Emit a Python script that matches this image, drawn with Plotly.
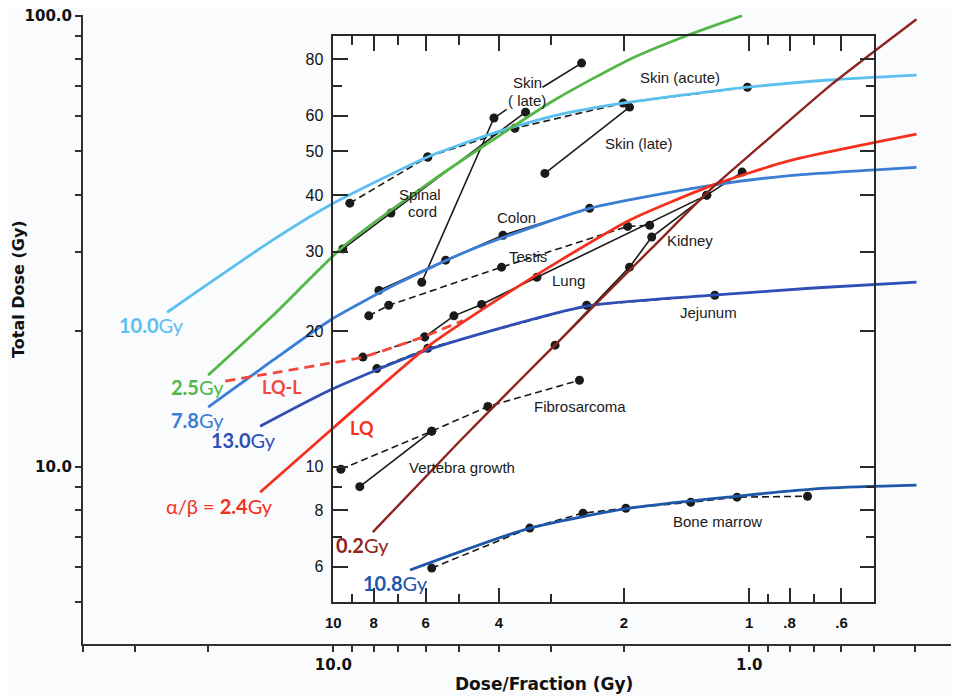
import math
import plotly.graph_objects as go

# ---------------- figure geometry ----------------
OFF = 8                      # page body margin of the browser
W, H = 951, 688
M_L, M_R, M_T, M_B = 75, 0, 7, 52
X_OUT = (40.0, 0.313)     # outer x range (reversed, log)
Y_OUT = (4.045, 100.0)    # outer y range (log)
Y_PAD = 0.0015            # tiny headroom so the 100.0 tick is kept
X_IN = (10.0, 0.5)        # inner panel x extent
Y_IN = (5.0, 90.0)        # inner panel y extent

# ---------------- tick definitions ----------------
outer_x_ticks = [40, 30, 20, 10, 9, 8, 7, 6, 5, 4, 3, 2, 1, 0.9, 0.8, 0.7, 0.6, 0.5, 0.4]
outer_x_text = ["", "", "", "10.0", "", "", "", "", "", "", "", "", "1.0", "", "", "", "", "", ""]
outer_y_ticks = [5, 6, 7, 8, 9, 10, 20, 30, 40, 50, 60, 70, 80, 90, 100]
outer_y_text = ["", "", "", "", "", "10.0", "", "", "", "", "", "", "", "", "100.0"]

inner_x_major = [10, 8, 6, 4, 2, 1, 0.8, 0.6]
inner_x_text = ["10", "8", "6", "4", "2", "1", ".8", ".6"]
inner_x_minor = [9, 7, 5, 3, 0.9, 0.7]
inner_y_major = [6, 8, 10, 20, 30, 40, 50, 60, 80]
inner_y_text = ["6", "8", "10", "20", "30", "40", "50", "60", "80"]
inner_y_minor = [7, 9, 70]

# ---------------- coloured iso-effect curves ----------------
ab100_x = [25.1, 14.0, 10.2, 5.93, 4.05, 2.90, 1.94, 1.01, 0.64, 0.396]
ab100_y = [22.0, 31.8, 38.0, 48.6, 55.2, 60.2, 64.3, 69.4, 72.0, 73.8]

ab25_x = [20.0, 14.0, 9.49, 5.86, 4.14, 2.90, 1.94, 1.40, 1.04]
ab25_y = [15.96, 21.6, 30.7, 42.7, 53.0, 65.5, 80.0, 90.6, 100.0]

ab78_x = [20.0, 14.0, 10.2, 7.0, 4.70, 2.42, 1.224, 0.799, 0.396]
ab78_y = [13.55, 17.2, 21.1, 25.5, 30.2, 37.4, 42.1, 44.2, 46.1]

ab130_x = [15.0, 10.2, 5.96, 2.46, 1.224, 0.70, 0.396]
ab130_y = [12.3, 14.78, 18.13, 22.7, 24.0, 24.9, 25.65]

lq24_x = [15.0, 10.03, 5.96, 4.05, 2.86, 1.94, 1.224, 0.799, 0.396]
lq24_y = [8.78, 12.17, 18.4, 23.4, 28.6, 35.2, 42.1, 47.7, 54.6]

lql_x = [18.2, 10.2, 8.49, 6.09, 4.88]
lql_y = [15.48, 16.96, 17.5, 19.4, 21.1]

ab02_x = [8.04, 4.97, 3.56, 2.90, 1.735, 1.224, 0.944, 0.64, 0.396]
ab02_y = [7.16, 11.39, 15.55, 18.8, 30.2, 41.6, 51.3, 69.9, 98.2]

ab108_x = [6.54, 3.37, 1.94, 1.01, 0.651, 0.396]
ab108_y = [5.90, 7.31, 8.09, 8.65, 8.96, 9.10]

# ---------------- black tissue data (inner figure) ----------------
spinal_solid_x = [9.49, 7.27, 3.45]
spinal_solid_y = [30.4, 36.5, 61.1]
spinal_dash_x = [9.13, 5.93]
spinal_dash_y = [38.4, 48.6]
skin_acute_x = [5.93, 3.66, 2.01, 1.01]
skin_acute_y = [48.6, 56.3, 64.0, 69.4]
skin_late_steep_x = [6.13, 4.11]
skin_late_steep_y = [25.65, 59.3]
skin_late_top_x = [4.11, 3.83, None, 3.14, 2.53]
skin_late_top_y = [59.3, 62.0, None, 69.4, 78.5]
skin_late_top_dot_x = [2.53]
skin_late_top_dot_y = [78.5]
skin_late_low_x = [3.10, 1.94]
skin_late_low_y = [44.7, 62.7]
colon_x = [7.77, 5.37, 3.91, 2.42]
colon_y = [24.6, 28.7, 32.6, 37.4]
testis_x = [8.22, 7.36, 3.94, 1.96, 1.735]
testis_y = [21.6, 22.8, 27.7, 34.1, 34.3]
lung_dash_x = [8.49, 6.03]
lung_dash_y = [17.5, 19.4]
lung_x = [6.03, 5.13, 4.40, 3.24, 1.265, 1.04]
lung_y = [19.4, 21.6, 22.9, 26.3, 40.0, 45.0]
kidney_x = [2.93, 1.94, 1.716, 1.265]
kidney_y = [18.6, 27.7, 32.3, 40.0]
jejunum_x = [7.86, 5.93, 2.46, 1.21]
jejunum_y = [16.5, 18.3, 22.8, 24.0]
fibro_x = [9.59, 5.80, 4.25, 2.56]
fibro_y = [9.87, 11.99, 13.6, 15.55]
vertebra_x = [8.64, 5.80]
vertebra_y = [9.03, 11.99]
marrow_x = [5.80, 3.37, 2.51, 1.98, 1.382, 1.07, 0.724]
marrow_y = [5.96, 7.31, 7.89, 8.09, 8.34, 8.56, 8.60]

# ---------------- colours ----------------
C_LBLUE = "#5BC0EE"
C_GREEN = "#52B747"
C_MBLUE = "#3A7ED6"
C_DBLUE = "#2E4FB6"
C_RED = "#F5301F"
C_BROWN = "#8E2420"
C_NAVY = "#1F57A8"
BLACK = "#1a1a1a"

fig = go.Figure()

def black(x, y, dash="solid", mode="lines+markers"):
    fig.add_trace(go.Scatter(
        x=x, y=y, mode=mode, connectgaps=False,
        line=dict(color=BLACK, width=1.6, dash=dash),
        marker=dict(color=BLACK, size=9),
        showlegend=False, hoverinfo="skip", cliponaxis=False))

DASH = "7px,4px"
black(spinal_solid_x, spinal_solid_y)
black(spinal_dash_x, spinal_dash_y, DASH)
black(skin_acute_x, skin_acute_y, DASH)
black(skin_late_steep_x, skin_late_steep_y)
black(skin_late_top_x, skin_late_top_y, mode="lines")
black(skin_late_top_dot_x, skin_late_top_dot_y, mode="markers")
black(skin_late_low_x, skin_late_low_y)
black(colon_x, colon_y)
black(testis_x, testis_y, DASH)
black(lung_dash_x, lung_dash_y, DASH)
black(lung_x, lung_y)
black(kidney_x, kidney_y)
black(jejunum_x, jejunum_y, DASH)
black(fibro_x, fibro_y, DASH)
black(vertebra_x, vertebra_y)
black(marrow_x, marrow_y, DASH)

def curve(x, y, color, dash="solid", width=2.8):
    fig.add_trace(go.Scatter(
        x=x, y=y, mode="lines",
        line=dict(color=color, width=width, dash=dash, shape="spline", smoothing=0.6),
        showlegend=False, hoverinfo="skip", cliponaxis=True))

curve(ab100_x, ab100_y, C_LBLUE)
curve(ab25_x, ab25_y, C_GREEN)
curve(ab78_x, ab78_y, C_MBLUE)
curve(ab130_x, ab130_y, C_DBLUE)
curve(ab108_x, ab108_y, C_NAVY)
curve(lql_x, lql_y, "#F2483A", dash="10px,6px")
curve(lq24_x, lq24_y, C_RED)
curve(ab02_x, ab02_y, C_BROWN, width=2.4)

# dummy trace so the inner panel axes exist
fig.add_trace(go.Scatter(x=[], y=[], xaxis="x2", yaxis="y2", showlegend=False, hoverinfo="skip"))

# ---------------- geometry helpers ----------------
lx0, lx1 = math.log10(X_OUT[0]), math.log10(X_OUT[1])
ly0, ly1 = math.log10(Y_OUT[0]), math.log10(Y_OUT[1]) + Y_PAD

def fx(v):
    return (lx0 - math.log10(v)) / (lx0 - lx1)

def fy(v):
    return (math.log10(v) - ly0) / (ly1 - ly0)

PW = W - M_L - M_R
PH = H - M_T - M_B

def P(px, py):
    # px, py: position in the screenshot (page pixels)
    return (px - OFF - M_L) / PW, (H - M_B - (py - OFF)) / PH

AXC = "#3a2e2c"
INC = "#2a2a2a"

fig.update_layout(
    width=W, height=H,
    margin=dict(l=M_L, r=M_R, t=M_T, b=M_B, pad=0),
    paper_bgcolor="#FAFBFD",
    plot_bgcolor="rgba(0,0,0,0)",
    showlegend=False,
    xaxis=dict(type="log", range=[lx0, lx1], showgrid=False, zeroline=False,
               showline=True, linecolor=AXC, linewidth=2,
               ticks="outside", ticklen=6, tickwidth=1.5, tickcolor=AXC,
               tickmode="array", tickvals=outer_x_ticks, ticktext=outer_x_text,
               tickfont=dict(family="DejaVu Sans", size=15, color="#111", weight="bold"),
               ticklabeloverflow="allow", anchor="y"),
    yaxis=dict(type="log", range=[ly0, ly1], showgrid=False, zeroline=False,
               showline=True, linecolor=AXC, linewidth=2,
               ticks="outside", ticklen=6, tickwidth=1.5, tickcolor=AXC,
               tickmode="array", tickvals=outer_y_ticks, ticktext=outer_y_text,
               tickfont=dict(family="DejaVu Sans", size=15, color="#111", weight="bold"),
               ticklabeloverflow="allow", anchor="x"),
    xaxis2=dict(type="log", domain=[fx(X_IN[0]), fx(X_IN[1])],
                range=[math.log10(X_IN[0]), math.log10(X_IN[1])],
                anchor="y2", showgrid=False, zeroline=False,
                showline=True, linecolor=INC, linewidth=1.6, mirror="ticks",
                ticks="inside", ticklen=15, tickwidth=1.5, tickcolor=INC,
                tickmode="array", tickvals=inner_x_major, ticktext=inner_x_text,
                minor=dict(tickmode="array", tickvals=inner_x_minor, ticks="inside",
                           ticklen=9, tickwidth=1.5, tickcolor=INC, showgrid=False),
                tickfont=dict(family="Liberation Sans", size=15, color="#111", weight="bold"),
                ticklabelstandoff=6),
    yaxis2=dict(type="log", domain=[fy(Y_IN[0]), fy(Y_IN[1])],
                range=[math.log10(Y_IN[0]), math.log10(Y_IN[1])],
                anchor="x2", showgrid=False, zeroline=False,
                showline=True, linecolor=INC, linewidth=1.6, mirror="ticks",
                ticks="inside", ticklen=15, tickwidth=1.5, tickcolor=INC,
                tickmode="array", tickvals=inner_y_major, ticktext=inner_y_text,
                minor=dict(tickmode="array", tickvals=inner_y_minor, ticks="inside",
                           ticklen=9, tickwidth=1.5, tickcolor=INC, showgrid=False),
                tickfont=dict(family="Liberation Sans", size=16, color="#111"),
                ticklabelstandoff=5),
)

fig.add_shape(type="rect", xref="x2 domain", yref="y2 domain", x0=0, x1=1, y0=0, y1=1,
              fillcolor="white", line=dict(width=0), layer="below")

def ann(text, px, py, color="#111", size=16, family="Liberation Sans", angle=0, xanchor="center"):
    x, y = P(px, py)
    fig.add_annotation(text=text, x=x, y=y, xref="paper", yref="paper", showarrow=False,
                       font=dict(family=family, size=size, color=color), textangle=angle,
                       xanchor=xanchor, yanchor="middle")

# axis titles
ann("<b>Total Dose (Gy)</b>", 18, 289, size=16, family="DejaVu Sans", angle=-90)
ann("<b>Dose/Fraction (Gy)</b>", 544, 684, size=17, family="DejaVu Sans")

# coloured labels
LF = "Lato"
ann("<b>10.0</b>Gy", 151, 325, C_LBLUE, 20, LF)
ann("<b>2.5</b>Gy", 197, 387, "#4DB848", 20, LF)
ann("<b>LQ-L</b>", 282, 387, "#F2483A", 18, LF)
ann("<b>7.8</b>Gy", 197, 420, C_MBLUE, 20, LF)
ann("<b>13.0</b>Gy", 243, 440, C_DBLUE, 20, LF)
ann("<b>LQ</b>", 362, 428, C_RED, 18, LF)
ann("α/β = <b>2.4</b>Gy", 219, 506, C_RED, 20, LF)
ann("<b>0.2</b>Gy", 362, 545, C_BROWN, 20, LF)
ann("<b>10.8</b>Gy", 395, 583, C_NAVY, 20, LF)

# inner panel tissue labels
for t, px, py in [("Skin", 527, 82), ("( late)", 527, 101), ("Skin (acute)", 680, 77),
                  ("Skin (late)", 639, 143), ("Spinal", 420, 194), ("cord", 422, 211),
                  ("Colon", 516, 217), ("Testis", 528, 256), ("Lung", 568, 280),
                  ("Kidney", 690, 240), ("Jejunum", 708, 312), ("Fibrosarcoma", 580, 406),
                  ("Vertebra growth", 462, 467), ("Bone marrow", 717, 521)]:
    ann(t, px, py, "#1a1a1a", 15)

fig.write_html("out.html")
